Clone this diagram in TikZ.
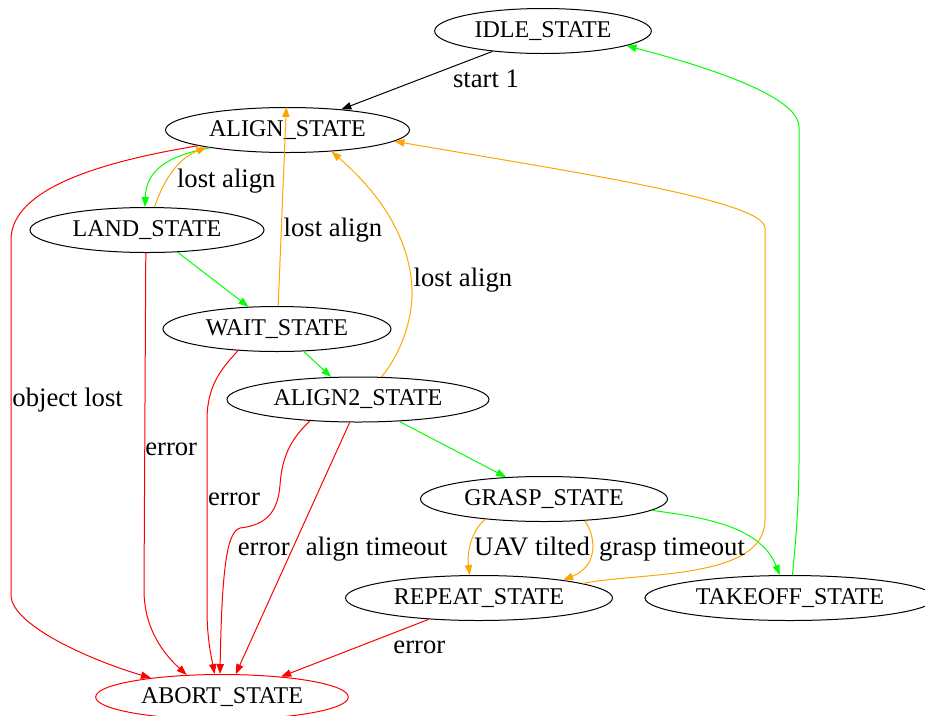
\documentclass[tikz,border=0pt]{standalone}
\usepackage{fontspec}
\setmainfont{Liberation Serif}
\usetikzlibrary{shapes.geometric, arrows.meta}
\definecolor{gvgreen}{RGB}{0,255,0}
\definecolor{gvorange}{RGB}{255,165,0}
\definecolor{gvred}{RGB}{255,0,0}
\begin{document}
\begin{tikzpicture}[x=0.75pt, y=-0.75pt,
    state/.style={ellipse, draw=black, fill=white, minimum height=33.75pt,
        inner sep=0pt, line width=0.75pt, font=\fontsize{18}{20}\selectfont},
    post/.style={line width=0.75pt, -{Triangle[length=7.5pt,width=5.5pt]}},
    lbl/.style={anchor=base, inner sep=0pt, font=\fontsize{20}{22}\selectfont},
]
\useasboundingbox (0,0) rectangle (925,715);
  % states
  \node[state, minimum width=162.5pt] (s_idle) at (543, 31) {IDLE\_STATE};
  \node[state, minimum width=183pt] (s_align) at (287.5, 130) {ALIGN\_STATE};
  \node[state, minimum width=175.5pt] (s_land) at (147, 230) {LAND\_STATE};
  \node[state, minimum width=171pt] (s_wait) at (277, 329) {WAIT\_STATE};
  \node[state, minimum width=196.5pt] (s_align2) at (358, 399.5) {ALIGN2\_STATE};
  \node[state, minimum width=185.25pt] (s_grasp) at (544, 499) {GRASP\_STATE};
  \node[state, minimum width=200.25pt] (s_repeat) at (479, 598) {REPEAT\_STATE};
  \node[state, minimum width=217.5pt] (s_takeoff) at (790, 598) {TAKEOFF\_STATE};
  \node[state, draw=gvred, minimum width=189.5pt] (s_abort) at (222, 697) {ABORT\_STATE};
  % black
  \draw[post] (s_idle.202) -- (s_align.21);
  \node[lbl] (l_start) at (486, 87.7) {start 1};
  % green
  \draw[post, gvgreen] (s_takeoff.84) .. controls (796, 540) and (799, 500) .. (799, 460)
    -- (799, 127) .. controls (799, 95) and (700, 65) .. (s_idle.350);
  \draw[post, gvgreen] (s_align.193) .. controls (165, 156) and (146, 172) .. (s_land.95);
  \draw[post, gvgreen] (s_land.324) -- (s_wait.142);
  \draw[post, gvgreen] (s_wait.320) -- (s_align2.140);
  \draw[post, gvgreen] (s_align2.332) -- (s_grasp.150);
  \draw[post, gvgreen] (s_grasp.354.5) .. controls (700, 517) and (760, 525) .. (s_takeoff.114);
  % orange
  \draw[post, gvorange] (s_land.72) .. controls (162, 185) and (175, 160) .. (s_align.192);
  \node[lbl] (l_lost1) at (226.3, 187.3) {lost align};
  \draw[post, gvorange] (s_wait.87) -- (s_align.93);
  \node[lbl] (l_lost2) at (333, 236.7) {lost align};
  \draw[post, gvorange] (s_align2.44) .. controls (400, 355) and (413, 320) .. (412, 290)
    .. controls (410, 230) and (370, 185) .. (s_align.334);
  \node[lbl] (l_lost3) at (463, 286.7) {lost align};
  \draw[post, gvorange] (s_repeat.8) .. controls (640, 572) and (765, 580) .. (765, 520)
    -- (765, 228) .. controls (765, 200) and (560, 170) .. (s_align.354);
  \draw[post, gvorange] (s_grasp.199) .. controls (470, 532) and (467, 555) .. (s_repeat.112);
  \node[lbl] (l_tilted) at (532, 555) {UAV tilted};
  \draw[post, gvorange] (s_grasp.332) .. controls (595, 535) and (600, 565) .. (s_repeat.12);
  \node[lbl] (l_grasp) at (672, 555) {grasp timeout};
  % red
  \draw[post, gvred] (s_align.190) .. controls (80, 165) and (11, 195) .. (11, 240)
    -- (11, 595) .. controls (11, 625) and (90, 660) .. (s_abort.165);
  \node[lbl] (l_object) at (67.6, 406.7) {object lost};
  \draw[post, gvred] (s_land.267) -- (144, 590) .. controls (144, 630) and (165, 655) .. (s_abort.148);
  \node[lbl] (l_err1) at (171.2, 455.7) {error};
  \draw[post, gvred] (s_wait.209) .. controls (222, 368) and (207, 385) .. (207, 420)
    -- (207, 610) .. controls (207, 640) and (212, 660) .. (s_abort.108);
  \node[lbl] (l_err2) at (234, 505) {error};
  \draw[post, gvred] (s_align2.204.5) .. controls (292, 438) and (282, 455) .. (280, 485)
    .. controls (278, 510) and (268, 525) .. (240, 528)
    .. controls (228, 532) and (222, 560) .. (s_abort.95);
  \node[lbl] (l_err3) at (263.8, 555) {error};
  \draw[post, gvred] (s_align2.250) -- (s_abort.59);
  \node[lbl] (l_align) at (376.7, 555) {align timeout};
  \draw[post, gvred] (s_repeat.203) -- (s_abort.19.3);
  \node[lbl] (l_err4) at (419.4, 653.5) {error};
\end{tikzpicture}
\end{document}
